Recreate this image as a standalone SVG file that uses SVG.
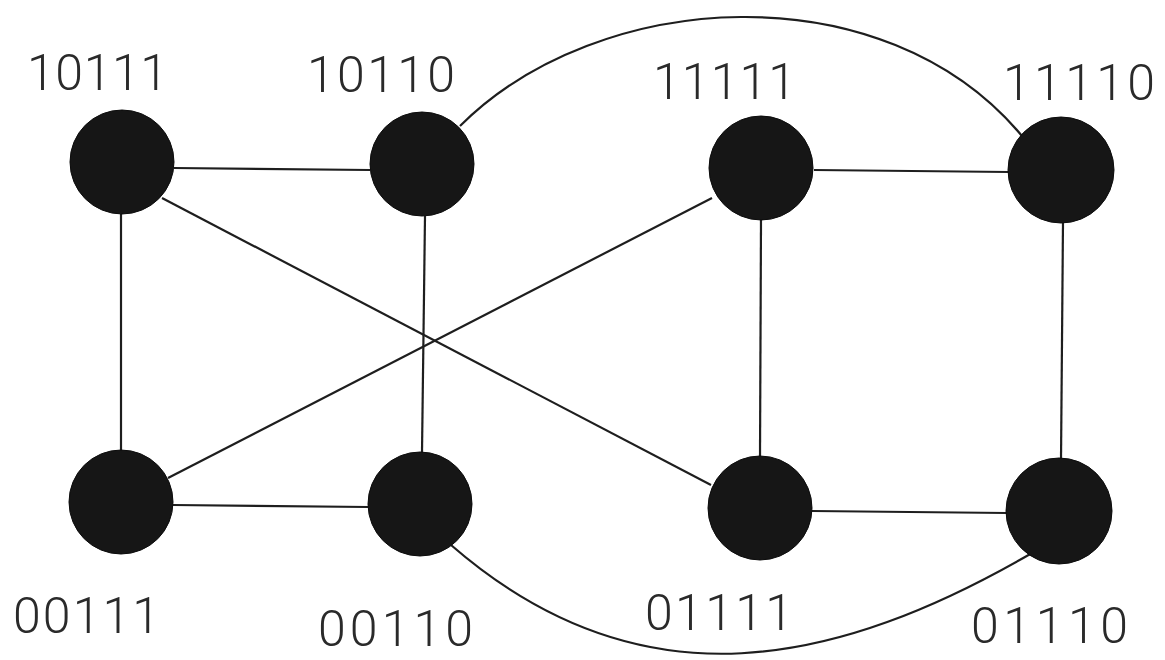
<svg xmlns="http://www.w3.org/2000/svg" width="1165" height="660" viewBox="0 0 1165 660">
<style>
.edge{stroke:#1e1e1e;stroke-width:2.2;fill:none}
.node{fill:#161616;stroke:#0c0c0c;stroke-width:1}
.lbl{font-family:"Roboto","Open Sans","Liberation Sans",sans-serif;font-weight:300;font-size:50px;fill:#2a2a2a}
</style>
<rect width="1165" height="660" fill="#ffffff"/>
<g id="connectors">
<line class="edge" x1="174" y1="168" x2="370" y2="170"/>
<line class="edge" x1="121" y1="214" x2="121" y2="451"/>
<line class="edge" x1="162" y1="198" x2="711" y2="485"/>
<line class="edge" x1="425" y1="216" x2="422" y2="453"/>
<line class="edge" x1="814" y1="170" x2="1009" y2="172"/>
<line class="edge" x1="761" y1="220" x2="760" y2="457"/>
<line class="edge" x1="712" y1="198" x2="168" y2="478"/>
<line class="edge" x1="1063" y1="222" x2="1061" y2="460"/>
<line class="edge" x1="173" y1="505" x2="368" y2="507"/>
<line class="edge" x1="812" y1="511" x2="1007" y2="513"/>
<path class="edge" d="M460,126 C598,-12 884,-30 1022,136"/>
<path class="edge" d="M451,545 C643,712 840,664 1032,553"/>
</g>
<g id="n10111"><circle class="node" cx="122" cy="162" r="52"/><text class="lbl" x="27" y="90" textLength="141" lengthAdjust="spacing">10111</text></g>
<g id="n10110"><circle class="node" cx="422" cy="164" r="52"/><text class="lbl" x="307" y="92" textLength="148" lengthAdjust="spacing">10110</text></g>
<g id="n11111"><circle class="node" cx="761" cy="168" r="52"/><text class="lbl" x="653" y="99" textLength="143" lengthAdjust="spacing">11111</text></g>
<g id="n11110"><circle class="node" cx="1061" cy="170" r="53"/><text class="lbl" x="1003" y="100" textLength="152" lengthAdjust="spacing">11110</text></g>
<g id="n00111"><circle class="node" cx="121" cy="502" r="52"/><text class="lbl" x="13" y="633" textLength="147" lengthAdjust="spacing">00111</text></g>
<g id="n00110"><circle class="node" cx="420" cy="504" r="52"/><text class="lbl" x="318" y="646" textLength="155" lengthAdjust="spacing">00110</text></g>
<g id="n01111"><circle class="node" cx="760" cy="508" r="52"/><text class="lbl" x="645" y="630" textLength="148" lengthAdjust="spacing">01111</text></g>
<g id="n01110"><circle class="node" cx="1059" cy="511" r="53"/><text class="lbl" x="971" y="643" textLength="157" lengthAdjust="spacing">01110</text></g>
</svg>
